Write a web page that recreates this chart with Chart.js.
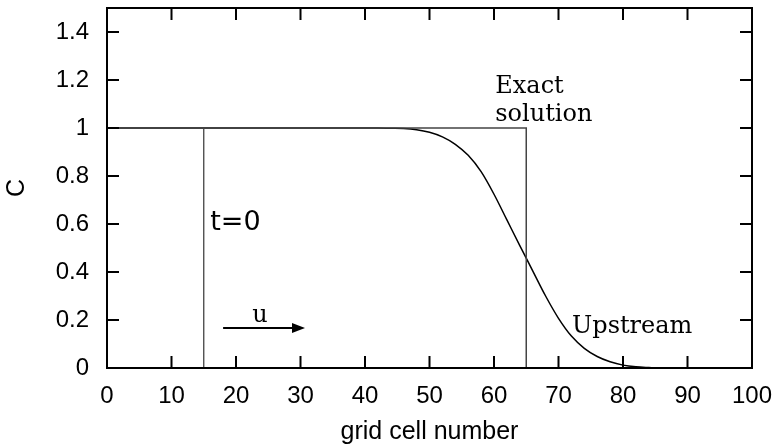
<!DOCTYPE html>
<html>
<head>
<meta charset="utf-8">
<script src="https://cdn.jsdelivr.net/npm/chart.js@4.4.1/dist/chart.umd.min.js"></script>
<style>
  body { margin: 0; background: #fff; }
  #box { width: 775px; height: 447px; }
</style>
</head>
<body>
<div id="box"><canvas id="chart_upstream"></canvas></div>
<script>
// Dados
var xTicks = [0, 10, 20, 30, 40, 50, 60, 70, 80, 90, 100];
var yTicks = [0, 0.2, 0.4, 0.6, 0.8, 1, 1.2, 1.4];

// condição inicial (t=0): degrau em x=15
var initX = [0, 15, 15, 100];
var initC = [1, 1, 0, 0];

// solução exata: degrau em x=65
var exactX = [0, 65, 65, 100];
var exactC = [1, 1, 0, 0];

// esquema upstream (difusão numérica)
var upX = [0, 40, 42, 44, 46, 48, 50, 52, 54, 56, 58, 60, 62, 64, 66, 68, 70, 72, 74, 76, 78, 80, 82, 84, 86, 100];
var upC = [1, 1, 1, 0.999, 0.998, 0.993, 0.982, 0.963, 0.932, 0.886, 0.818, 0.724, 0.617, 0.51, 0.405, 0.3, 0.207, 0.133, 0.082, 0.048, 0.026, 0.012, 0.005, 0.002, 0, 0];

function pontos(xs, ys) {
  return xs.map(function (x, i) { return { x: x, y: ys[i] }; });
}

// tira o padding automático das escalas, para a área do gráfico ficar igual à figura
function semPadding(s) {
  s.paddingTop = 0;
  s.paddingBottom = 0;
  s.paddingLeft = 0;
  s.paddingRight = 0;
}

// moldura, ticks para dentro e textos da figura
const moldura = {
  id: 'moldura',
  afterDraw(chart) {
    const ctx = chart.ctx;
    const a = chart.chartArea;
    const sx = chart.scales.x;
    const sy = chart.scales.y;
    const tl = 12;

    ctx.save();
    ctx.strokeStyle = '#000';
    ctx.lineWidth = 2;
    ctx.strokeRect(a.left, a.top, a.right - a.left, a.bottom - a.top);

    ctx.beginPath();
    xTicks.forEach(function (v) {
      var px = sx.getPixelForValue(v);
      ctx.moveTo(px, a.bottom); ctx.lineTo(px, a.bottom - tl);
      ctx.moveTo(px, a.top); ctx.lineTo(px, a.top + tl);
    });
    yTicks.forEach(function (v) {
      var py = sy.getPixelForValue(v);
      ctx.moveTo(a.left, py); ctx.lineTo(a.left + tl, py);
      ctx.moveTo(a.right, py); ctx.lineTo(a.right - tl, py);
    });
    ctx.stroke();

    // textos
    ctx.fillStyle = '#000';
    ctx.textBaseline = 'alphabetic';
    ctx.textAlign = 'left';
    ctx.font = '24px "DejaVu Serif"';
    ctx.fillText('Exact', sx.getPixelForValue(60.2), sy.getPixelForValue(1.146));
    ctx.fillText('solution', sx.getPixelForValue(60.2), sy.getPixelForValue(1.029));
    ctx.fillText('Upstream', sx.getPixelForValue(72.1), sy.getPixelForValue(0.146));
    ctx.textAlign = 'center';
    ctx.fillText('u', sx.getPixelForValue(23.7), sy.getPixelForValue(0.192));

    ctx.textAlign = 'left';
    ctx.font = '27px "DejaVu Sans"';
    ctx.fillText('t=0', sx.getPixelForValue(16), sy.getPixelForValue(0.575));

    // seta da velocidade u
    var x1 = sx.getPixelForValue(18);
    var x2 = sx.getPixelForValue(30.7);
    var ya = sy.getPixelForValue(0.167);
    ctx.lineWidth = 2;
    ctx.beginPath();
    ctx.moveTo(x1, ya); ctx.lineTo(x2 - 10, ya);
    ctx.stroke();
    ctx.beginPath();
    ctx.moveTo(x2, ya); ctx.lineTo(x2 - 13, ya - 5); ctx.lineTo(x2 - 13, ya + 5);
    ctx.closePath();
    ctx.fill();
    ctx.restore();
  }
};

const grafico = document.getElementById('chart_upstream');

new Chart(grafico, {
  type: 'line',
  data: {
    datasets: [{
      label: 't=0',
      data: pontos(initX, initC),
      borderColor: '#444',
      borderWidth: 1.3,
      pointRadius: 0,
      tension: 0
    }, {
      label: 'Exact solution',
      data: pontos(exactX, exactC),
      borderColor: '#444',
      borderWidth: 1.5,
      pointRadius: 0,
      tension: 0
    }, {
      label: 'Upstream',
      data: pontos(upX, upC),
      borderColor: '#000',
      borderWidth: 1.5,
      pointRadius: 0,
      cubicInterpolationMode: 'monotone'
    }]
  },
  options: {
    responsive: true,
    maintainAspectRatio: false,
    animation: false,
    layout: { padding: { top: 8, right: 23, left: 0, bottom: 0 } },
    plugins: { legend: { display: false }, tooltip: { enabled: false } },
    scales: {
      x: {
        type: 'linear',
        min: 0,
        max: 100,
        grid: { display: false },
        border: { display: false },
        afterBuildTicks: function (s) { s.ticks = xTicks.map(function (v) { return { value: v }; }); },
        afterFit: function (s) { s.height = 79; semPadding(s); },
        ticks: {
          color: '#000',
          padding: 6,
          maxRotation: 0,
          font: { family: 'Arial, "Liberation Sans"', size: 24 }
        },
        title: {
          display: true,
          text: 'grid cell number',
          color: '#000',
          padding: { top: 0, bottom: 0 },
          font: { family: 'Arial, "Liberation Sans"', size: 25 }
        }
      },
      y: {
        min: 0,
        max: 1.5,
        grid: { display: false },
        border: { display: false },
        afterBuildTicks: function (s) { s.ticks = yTicks.map(function (v) { return { value: v }; }); },
        afterFit: function (s) { s.width = 107; semPadding(s); },
        ticks: {
          color: '#000',
          padding: 10,
          font: { family: 'Arial, "Liberation Sans"', size: 24 },
          callback: function (v) { return String(+v.toFixed(1)); }
        },
        title: {
          display: true,
          text: 'C',
          color: '#000',
          padding: { top: 2, bottom: 0 },
          font: { family: 'Arial, "Liberation Sans"', size: 25 }
        }
      }
    }
  },
  plugins: [moldura]
});
</script>
</body>
</html>
